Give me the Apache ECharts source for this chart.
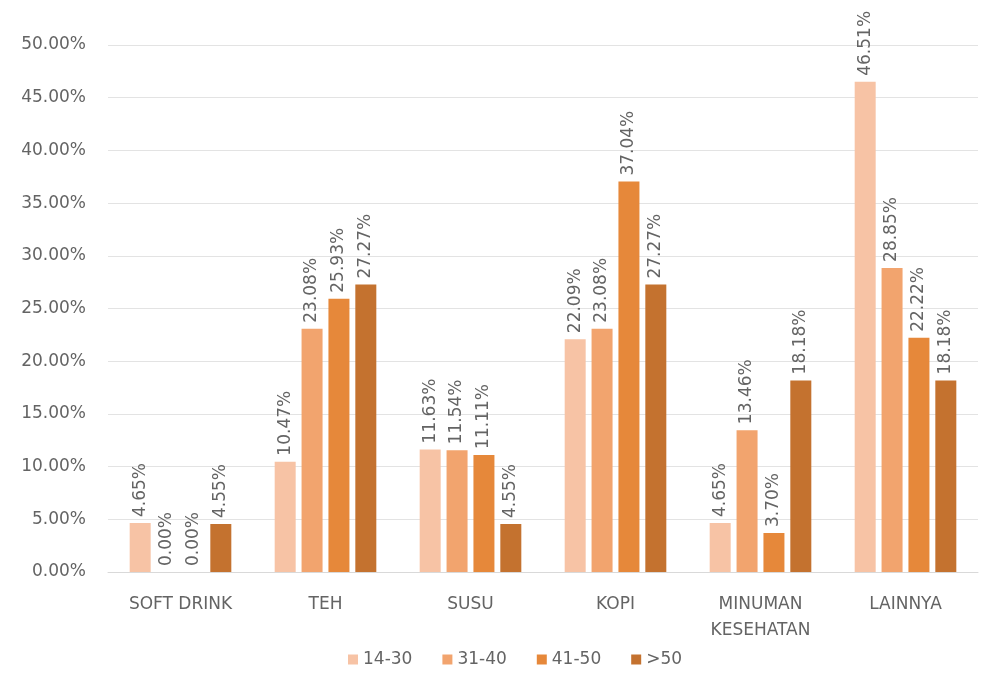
<!DOCTYPE html>
<html>
<head>
<meta charset="utf-8">
<script src="https://cdn.jsdelivr.net/npm/echarts@6/dist/echarts.min.js"></script>
<style>
  html, body { margin: 0; padding: 0; background: #ffffff; }
  #chart { width: 997px; height: 675px; }
</style>
</head>
<body>
<div id="chart"></div>
<script>
// Beverage preference by age group (percent of respondents)
const categories = ['SOFT DRINK', 'TEH', 'SUSU', 'KOPI', 'MINUMAN\nKESEHATAN', 'LAINNYA'];
const age14to30 = [4.65, 10.47, 11.63, 22.09, 4.65, 46.51];
const age31to40 = [0.00, 23.08, 11.54, 23.08, 13.46, 28.85];
const age41to50 = [0.00, 25.93, 11.11, 37.04, 3.70, 22.22];
const age50plus = [4.55, 27.27, 4.55, 27.27, 18.18, 18.18];
const seriesNames = ['14-30', '31-40', '41-50', '>50'];
const seriesColors = ['#F7C3A5', '#F2A46E', '#E6883A', '#C4722F'];

const FONT = '"DejaVu Sans", "Noto Sans", sans-serif';
const TEXT = '#646464';
const SIZE = 17;

const dataSets = [age14to30, age31to40, age41to50, age50plus];

const chart = echarts.init(document.getElementById('chart'));
chart.setOption({
  animation: false,
  textStyle: { fontFamily: FONT },
  grid: { left: 108, right: 19, top: 45, bottom: 103 },
  legend: {
    bottom: 2,
    left: 343,
    itemWidth: 10,
    itemHeight: 10,
    itemGap: 30,
    itemTextGap: 7,
    icon: 'rect',
    textStyle: { color: TEXT, fontSize: SIZE, fontFamily: FONT }
  },
  xAxis: {
    type: 'category',
    data: categories,
    axisTick: { show: false },
    axisLine: { lineStyle: { color: '#D9D9D9' } },
    axisLabel: { color: TEXT, fontSize: SIZE, fontFamily: FONT, margin: 20, lineHeight: 26, interval: 0 }
  },
  yAxis: {
    type: 'value',
    min: 0,
    max: 50,
    interval: 5,
    axisLine: { show: false },
    axisTick: { show: false },
    splitLine: { lineStyle: { color: '#E3E3E3' } },
    axisLabel: {
      color: TEXT, fontSize: SIZE, fontFamily: FONT, margin: 22,
      formatter: v => v.toFixed(2) + '%'
    }
  },
  series: dataSets.map((d, i) => ({
    name: seriesNames[i],
    type: 'bar',
    data: d,
    barWidth: 21,
    barGap: '28%',
    itemStyle: { color: seriesColors[i] },
    label: {
      show: true,
      position: 'top',
      rotate: 90,
      align: 'left',
      verticalAlign: 'middle',
      distance: 6,
      color: TEXT,
      fontSize: SIZE,
      fontFamily: FONT,
      formatter: p => p.value.toFixed(2) + '%'
    }
  }))
});
</script>
</body>
</html>
